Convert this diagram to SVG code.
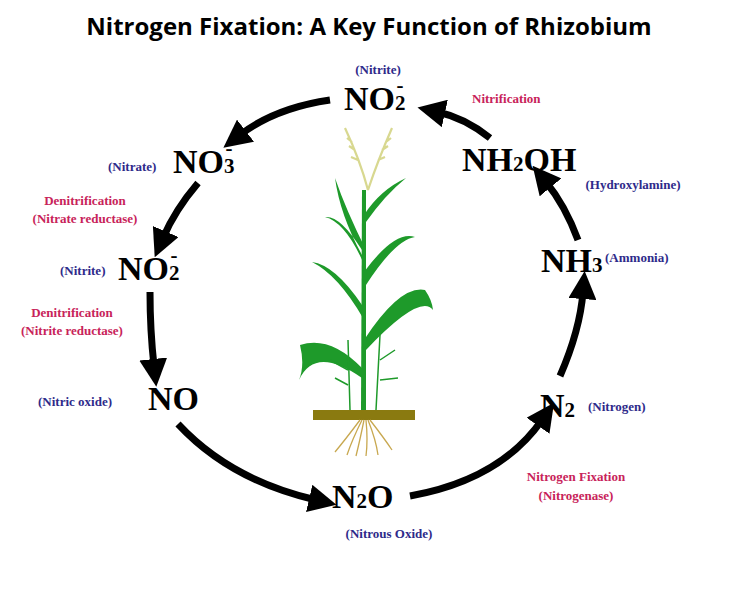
<svg xmlns="http://www.w3.org/2000/svg" width="738" height="600" viewBox="0 0 738 600">
<style>
.t{font-family:"Open Sans","Noto Sans",sans-serif;font-weight:bold;font-size:24px;fill:#000}
.f{font-family:"Liberation Serif",serif;font-weight:bold;font-size:34px;fill:#000}
.s{font-size:21px}
.b{font-family:"Liberation Serif",serif;font-weight:bold;font-size:13px;fill:#2e2a8a}
.r{font-family:"Liberation Serif",serif;font-weight:bold;font-size:13px;fill:#c8235a}
.a{fill:none;stroke:#000;stroke-width:7;marker-end:url(#h)}
.lf{fill:#1e9a2a}
.rt{fill:none;stroke:#c8a850;stroke-width:1.3}
</style>
<defs><marker id="h" markerWidth="4" markerHeight="4" refX="1" refY="2" orient="auto" markerUnits="strokeWidth"><path d="M0,0 L4,2 L0,4 Z" fill="#000"/></marker></defs>
<rect width="738" height="600" fill="#fff"/>
<text class="t" x="369" y="35" text-anchor="middle">Nitrogen Fixation: A Key Function of Rhizobium</text>
<g id="plant">
<path d="M361,410 L362,190 L366,190 L366,410 Z" class="lf"/>
<path d="M362,255 Q340,215 335,178 Q346,210 366,250 Z M364,215 Q380,190 406,178 Q385,195 366,222 Z M362,250 Q340,215 325,217 Q345,222 363,262 Z M364,272 Q395,230 415,237 Q395,240 366,285 Z M362,305 Q335,265 312,262 Q338,275 363,318 Z M364,340 Q400,285 425,290 Q432,300 433,310 Q420,293 366,350 Z M362,368 Q330,335 300,345 Q305,365 299,380 Q315,345 362,378 Z" class="lf"/>
<path d="M350,410 L348,340 M348,370 L330,360 M348,385 L335,378 M376,410 L380,335 M380,360 L395,350 M380,380 L398,378" fill="none" stroke="#1e9a2a" stroke-width="1.5"/>
<path d="M368,190 Q360,160 345,128 M368,190 Q378,160 392,128 M355,150 l-6,-4 M358,160 l-7,-3 M352,142 l-5,-4 M382,150 l6,-4 M378,160 l7,-3 M386,142 l5,-4" fill="none" stroke="#d8d890" stroke-width="2.2"/>
<rect x="313" y="410" width="102" height="10" fill="#8a7a10"/>
<path d="M360,420 Q345,440 335,452 M362,420 Q352,440 347,455 M364,420 Q360,440 356,456 M366,420 Q368,440 366,456 M368,420 Q376,440 378,455 M370,420 Q384,438 392,450" class="rt"/>
</g>
<g id="connectors">
<path class="a" d="M330,100 Q275,108 240,135"/>
<path class="a" d="M198,183 Q175,210 163,238"/>
<path class="a" d="M150,292 Q150,330 154,366"/>
<path class="a" d="M178,424 Q230,480 316,500"/>
<path class="a" d="M410,496 Q500,480 542,420"/>
<path class="a" d="M560,376 Q580,330 583,292"/>
<path class="a" d="M578,240 Q565,205 546,182"/>
<path class="a" d="M490,138 Q465,118 438,112"/>
</g>
<g id="n-no2top"><text class="b" x="378" y="74" text-anchor="middle">(Nitrite)</text><text class="f" x="344" y="110">NO<tspan class="s">2</tspan><tspan class="s" dx="-9" dy="-18">-</tspan></text></g>
<g id="n-nitrif"><text class="r" x="472" y="103">Nitrification</text></g>
<g id="n-no3"><text class="b" x="108" y="171">(Nitrate)</text><text class="f" x="173" y="173">NO<tspan class="s">3</tspan><tspan class="s" dx="-9" dy="-18">-</tspan></text></g>
<g id="n-denit1"><text class="r" x="85" y="205" text-anchor="middle">Denitrification</text><text class="r" x="85" y="223" text-anchor="middle">(Nitrate reductase)</text></g>
<g id="n-no2mid"><text class="b" x="60" y="275">(Nitrite)</text><text class="f" x="118" y="280">NO<tspan class="s">2</tspan><tspan class="s" dx="-9" dy="-18">-</tspan></text></g>
<g id="n-denit2"><text class="r" x="72" y="317" text-anchor="middle">Denitrification</text><text class="r" x="72" y="335" text-anchor="middle">(Nitrite reductase)</text></g>
<g id="n-no"><text class="b" x="38" y="406">(Nitric oxide)</text><text class="f" x="148" y="410">NO</text></g>
<g id="n-n2o"><text class="f" x="332" y="508">N<tspan class="s">2</tspan>O</text><text class="b" x="389" y="538" text-anchor="middle">(Nitrous Oxide)</text></g>
<g id="n-fix"><text class="r" x="576" y="481" text-anchor="middle">Nitrogen Fixation</text><text class="r" x="576" y="500" text-anchor="middle">(Nitrogenase)</text></g>
<g id="n-n2"><text class="f" x="540" y="417">N<tspan class="s">2</tspan></text><text class="b" x="588" y="411">(Nitrogen)</text></g>
<g id="n-nh3"><text class="f" x="541" y="272">NH<tspan class="s">3</tspan></text><text class="b" x="605" y="262">(Ammonia)</text></g>
<g id="n-nh2oh"><text class="f" x="462" y="171">NH<tspan class="s">2</tspan>OH</text><text class="b" x="633" y="189" text-anchor="middle">(Hydroxylamine)</text></g>
</svg>
